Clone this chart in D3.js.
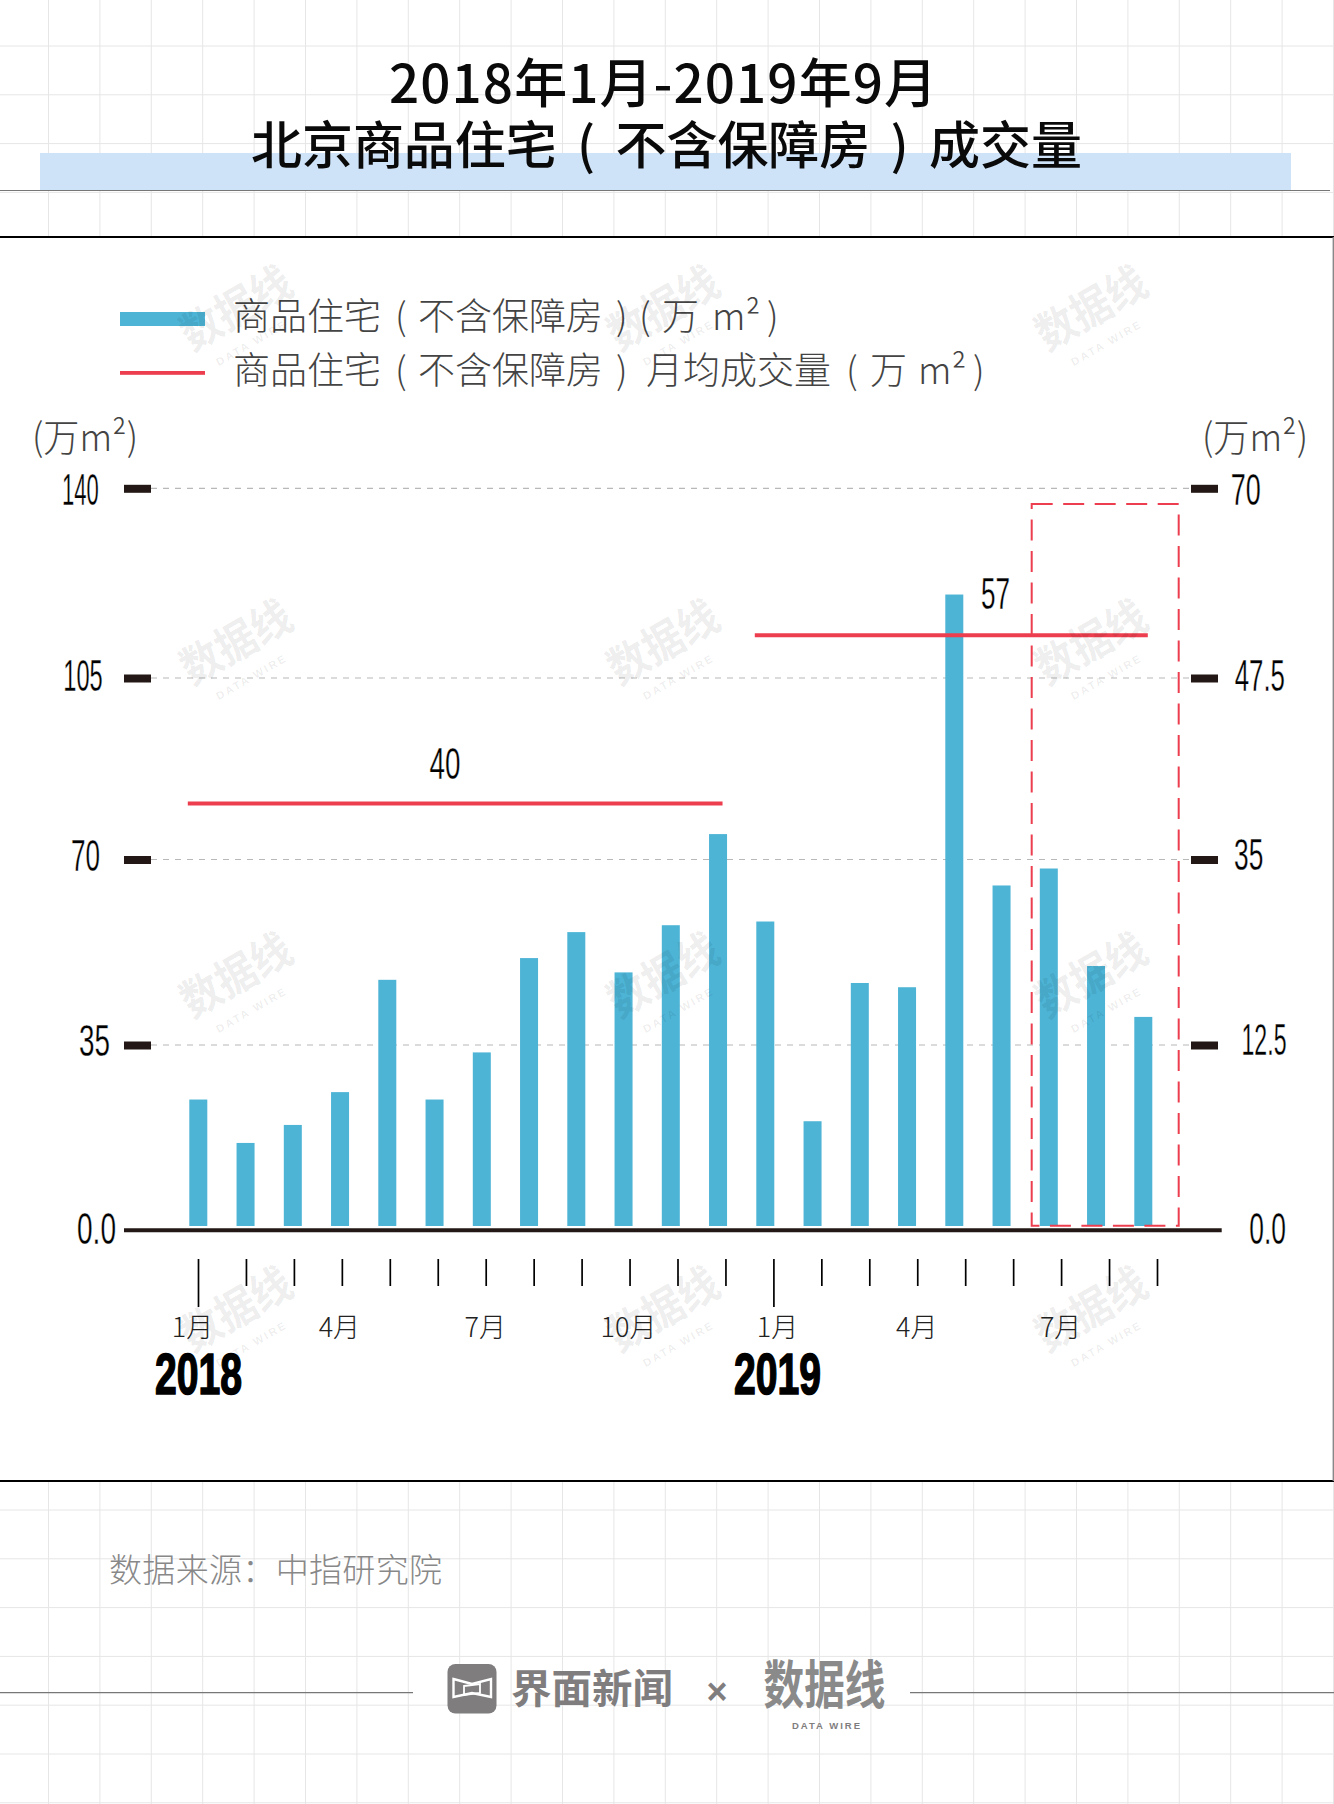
<!DOCTYPE html>
<html lang="zh"><head><meta charset="utf-8">
<script src="https://cdn.jsdelivr.net/npm/d3@7"></script>
<style>html,body{margin:0;padding:0;background:#fff}svg{display:block}</style></head>
<body><svg id="c" width="1334" height="1804"></svg>
<script>
// ---------- data ----------
const months = ["2018-01","2018-02","2018-03","2018-04","2018-05","2018-06","2018-07","2018-08","2018-09","2018-10","2018-11","2018-12","2019-01","2019-02","2019-03","2019-04","2019-05","2019-06","2019-07","2019-08","2019-09"];
const volume = [24.7,16.5,19.9,26.1,47.3,24.7,33.6,51.4,56.3,48.7,57.6,74.9,58.3,20.6,46.7,45.9,120.4,65.1,68.3,49.9,40.3];
const avgStartIndex = [0,12];
const avgEndIndex = [11,20];
const avgLevel = [80.8,112.9];
const avgLabels = ["40","57"];
const leftTicks = [0,35,70,105,140];
const leftTickLabels = ["0.0","35","70","105","140"];
const rightTicks = [0,17.5,35,52.5,70];
const rightTickLabels = ["0.0","12.5","35","47.5","70"];
const monthTickLabels = {0:"1月",3:"4月",6:"7月",9:"10月",12:"1月",15:"4月",18:"7月"};
const yearLabels = {0:"2018",12:"2019"};
const unitLabel = "(万m²)";
const sourceText = "数据来源：中指研究院";
const titleLine1 = "2018年1月-2019年9月";
const titleLine2 = "北京商品住宅 ( 不含保障房 ) 成交量";
const legendRuns1 = ["商品住宅","(","不含保障房",")","(","万","m²",")"];
const legendRuns2 = ["商品住宅","(","不含保障房",")","月均成交量","(","万","m²",")"];

// ---------- layout (separate from the data) ----------
const W=1334,H=1804;
const yRange=[1230.3,1045,859.5,678,488.3];
const barBottomGap=4.3, barW=18;
const leftLabelX=[77,79,71,63.3,62], leftLabelW=[39,31,29,39.4,36.7], leftLabelDy=[13,10,10.5,12.7,15.7];
const rightLabelX=[1249.3,1241.5,1234,1234.7,1230.7], rightLabelW=[36.7,45,29.3,50.3,30], rightLabelDy=[13,9,10,12.7,15.7];
const monthDx={0:-6,3:-3,6:-1,9:-1.5,12:3.5,15:-1,18:-1};
const CJK='"Noto Sans CJK SC","Noto Sans",sans-serif', NUM='"Liberation Sans",Arial,sans-serif';
const BLUE='#4db4d6', RED='#ec3e4e', INK='#231815';

const svg=d3.select('#c');
function runs(sel,parts,xs){
  sel.selectAll('tspan').data(parts).join('tspan').text(d=>d).attr('x',(d,i)=>xs[i]);
  return sel;
}

// background grid
const bg=svg.append('g').attr('stroke','#e6e6e6').attr('stroke-width',1);
bg.selectAll('line.v').data(d3.range(48.5,W,51.4)).join('line').attr('class','v').attr('x1',d=>d).attr('x2',d=>d).attr('y1',0).attr('y2',H);
bg.selectAll('line.h').data(d3.range(46,H,48.8)).join('line').attr('class','h').attr('y1',d=>d).attr('y2',d=>d).attr('x1',0).attr('x2',W);

// header
svg.append('rect').attr('x',40).attr('y',153).attr('width',1251).attr('height',37).attr('fill','#cfe3f8');
svg.append('line').attr('x1',0).attr('x2',1330).attr('y1',190.5).attr('y2',190.5).attr('stroke','#777').attr('stroke-width',1.2);
svg.append('text').text(titleLine1).attr('x',389).attr('y',103).attr('font-family',CJK).attr('font-size',53).attr('font-weight',500).attr('fill','#0a0a0a')
  .attr('textLength',548).attr('lengthAdjust','spacing');
svg.append('text').text(titleLine2).attr('x',251).attr('y',164).attr('font-family',CJK).attr('font-size',51).attr('font-weight',500).attr('fill','#0a0a0a')
  .attr('textLength',831).attr('lengthAdjust','spacing').attr('word-spacing',9);

// panel
svg.append('rect').attr('x',-2).attr('y',237).attr('width',W+1.5).attr('height',1244).attr('fill','#fff');
svg.append('line').attr('x1',0).attr('x2',W).attr('y1',237).attr('y2',237).attr('stroke','#000').attr('stroke-width',2);
svg.append('line').attr('x1',0).attr('x2',W).attr('y1',1481).attr('y2',1481).attr('stroke','#000').attr('stroke-width',2);
svg.append('line').attr('x1',1333.3).attr('x2',1333.3).attr('y1',237).attr('y2',1481).attr('stroke','#888').attr('stroke-width',1.4);

// scales
const y=d3.scaleLinear().domain(leftTicks).range(yRange);
const yR=d3.scaleLinear().domain(rightTicks).range(yRange);
const x=d3.scalePoint().domain(months).range([198.3,1143.3]);
const xTick=d3.scalePoint().domain(months).range([198,1157]);

// gridlines
svg.append('g').selectAll('line').data(leftTicks.slice(1)).join('line')
  .attr('x1',151).attr('x2',1191).attr('y1',d=>y(d)).attr('y2',d=>y(d))
  .attr('stroke','#b8b8b8').attr('stroke-width',1.2).attr('stroke-dasharray','6,6');

// bars
svg.append('g').selectAll('rect').data(volume).join('rect')
  .attr('x',(d,i)=>x(months[i])-barW/2).attr('width',barW)
  .attr('y',d=>y(d)).attr('height',d=>y(0)-barBottomGap-y(d)).attr('fill',BLUE);

// highlight box
svg.append('rect').attr('x',1031.7).attr('y',504).attr('width',147).attr('height',1225.7-504)
  .attr('fill','none').attr('stroke',RED).attr('stroke-width',2).attr('stroke-dasharray','21,10.5');

// average lines
svg.append('g').selectAll('line').data(avgLevel).join('line')
  .attr('x1',(d,i)=>x(months[avgStartIndex[i]])-10.5).attr('x2',(d,i)=>x(months[avgEndIndex[i]])+4.5)
  .attr('y1',d=>y(d)).attr('y2',d=>y(d)).attr('stroke',RED).attr('stroke-width',4);
const avgLabelX=[429.5,981], avgLabelW=[31,29], avgLabelDy=[-24,-26.5];
svg.append('g').selectAll('text').data(avgLabels).join('text').text(d=>d)
  .attr('x',(d,i)=>avgLabelX[i]).attr('y',(d,i)=>y(avgLevel[i])+avgLabelDy[i])
  .attr('font-family',NUM).attr('font-size',44).attr('fill','#000').attr('stroke','#fff').attr('stroke-width',0.35)
  .attr('textLength',(d,i)=>avgLabelW[i]).attr('lengthAdjust','spacingAndGlyphs');

// y axes
function styleAxis(g){ g.select('.domain').remove();
  g.selectAll('.tick line').attr('stroke',INK).attr('stroke-width',8).attr('display',d=>d===0?'none':null);
  g.selectAll('.tick text').attr('font-family',NUM).attr('font-size',44).attr('fill','#000').attr('stroke','#fff').attr('stroke-width',0.35)
   .attr('text-anchor','start').attr('dy',null).attr('lengthAdjust','spacingAndGlyphs');
}
svg.append('g').attr('transform','translate(151,0)')
  .call(d3.axisLeft(y).tickValues(leftTicks).tickSize(27).tickFormat((d,i)=>leftTickLabels[i]))
  .call(styleAxis)
  .call(g=>g.selectAll('.tick text').attr('x',(d,i)=>leftLabelX[i]-151).attr('y',(d,i)=>leftLabelDy[i]).attr('textLength',(d,i)=>leftLabelW[i]));
svg.append('g').attr('transform','translate(1191,0)')
  .call(d3.axisRight(yR).tickValues(rightTicks).tickSize(27).tickFormat((d,i)=>rightTickLabels[i]))
  .call(styleAxis)
  .call(g=>g.selectAll('.tick text').attr('x',(d,i)=>rightLabelX[i]-1191).attr('y',(d,i)=>rightLabelDy[i]).attr('textLength',(d,i)=>rightLabelW[i]));

// baseline
svg.append('line').attr('x1',124).attr('x2',1221.7).attr('y1',y(0)).attr('y2',y(0)).attr('stroke',INK).attr('stroke-width',4);

// x axis
svg.append('g').attr('transform','translate(0,1259)')
  .call(d3.axisBottom(xTick).tickValues(months).tickSizeOuter(0).tickSize(27).tickFormat((d,i)=>monthTickLabels[i]||''))
  .call(g=>{ g.select('.domain').remove();
    g.selectAll('.tick line').attr('stroke','#000').attr('stroke-width',1.7).attr('y2',(d,i)=>yearLabels[i]?48:27);
    g.selectAll('.tick text').attr('font-family',CJK).attr('font-size',27).attr('font-weight',300).attr('fill','#222')
      .attr('x',(d,i)=>monthDx[i]||0).attr('y',78).attr('dy',null).attr('text-anchor','middle');
  });
svg.append('g').selectAll('text').data(Object.keys(yearLabels)).join('text').text(k=>yearLabels[k])
  .attr('x',k=>+k===0?155:734).attr('y',1394)
  .attr('font-family',NUM).attr('font-size',57).attr('font-weight',700).attr('fill','#000').attr('stroke','#000').attr('stroke-width',1.6)
  .attr('textLength',87).attr('lengthAdjust','spacingAndGlyphs');

// legend
svg.append('rect').attr('x',120).attr('y',312).attr('width',85).attr('height',14).attr('fill',BLUE);
svg.append('rect').attr('x',120).attr('y',371).attr('width',85).attr('height',3.8).attr('fill',RED);
const legG=svg.append('g').attr('font-family',CJK).attr('font-size',37).attr('font-weight',300).attr('fill','#444');
runs(legG.append('text').attr('y',330),legendRuns1,[233,395,418,616,639,662,712,767]);
runs(legG.append('text').attr('y',384),legendRuns2,[233,395,418,616,646,846,870,918,973]);

// units
const unitX=[32,1202];
svg.selectAll('text.unit').data(unitX).join('text').attr('class','unit').text(unitLabel)
  .attr('x',d=>d).attr('y',451).attr('font-family',CJK).attr('font-size',38).attr('font-weight',300).attr('fill','#444')
  .attr('textLength',106).attr('lengthAdjust','spacingAndGlyphs');

// watermarks
const wmX=[239,666,1094], wmY=[313,647,980,1314];
const wm=svg.append('g').attr('fill','#000').attr('fill-opacity',0.08);
wmY.forEach(cy=>wmX.forEach(cx=>{
  const g=wm.append('g').attr('transform',`translate(${cx},${cy}) rotate(-30)`);
  g.append('text').text('数据线').attr('x',-60).attr('y',10).attr('font-family',CJK).attr('font-weight',700).attr('font-size',44).attr('textLength',120).attr('lengthAdjust','spacingAndGlyphs');
  g.append('text').text('DATA WIRE').attr('x',-4).attr('y',36).attr('text-anchor','middle').attr('font-family',NUM).attr('font-weight',700).attr('font-size',11).attr('letter-spacing',2.2);
}));

// source
svg.append('text').text(sourceText).attr('x',109).attr('y',1582).attr('font-family',CJK).attr('font-size',33).attr('font-weight',300).attr('fill','#888')
  .attr('textLength',333).attr('lengthAdjust','spacing');

// footer
svg.append('line').attr('x1',0).attr('x2',413).attr('y1',1692.7).attr('y2',1692.7).attr('stroke','#777').attr('stroke-width',1.3);
svg.append('line').attr('x1',910).attr('x2',W).attr('y1',1692.7).attr('y2',1692.7).attr('stroke','#777').attr('stroke-width',1.3);
const GR='#7f7d7e';
svg.append('rect').attr('x',447.5).attr('y',1664).attr('width',49).attr('height',49.5).attr('rx',8).attr('fill',GR);
svg.append('polygon').attr('points','453.5,1679 472,1684 491,1679 491,1697 472,1693 453.5,1697').attr('fill','none').attr('stroke','#fff').attr('stroke-width',2.4);
svg.append('polygon').attr('points','464,1686 480,1684 480,1693 464,1695').attr('fill','none').attr('stroke','#fff').attr('stroke-width',1.8);
svg.append('text').text('界面新闻').attr('x',511).attr('y',1703).attr('font-family',CJK).attr('font-weight',700).attr('font-size',40).attr('fill',GR).attr('textLength',162).attr('lengthAdjust','spacingAndGlyphs');
svg.append('text').text('×').attr('x',717).attr('y',1704).attr('text-anchor','middle').attr('font-family',NUM).attr('font-weight',700).attr('font-size',36).attr('fill',GR);
svg.append('text').text('数据线').attr('x',763.5).attr('y',1704).attr('font-family',CJK).attr('font-weight',700).attr('font-size',52).attr('fill','#8a8a8a').attr('textLength',122).attr('lengthAdjust','spacingAndGlyphs');
svg.append('text').text('DATA WIRE').attr('x',792).attr('y',1729).attr('font-family',NUM).attr('font-weight',700).attr('font-size',9.5).attr('letter-spacing',2).attr('fill',GR);
</script></body></html>
